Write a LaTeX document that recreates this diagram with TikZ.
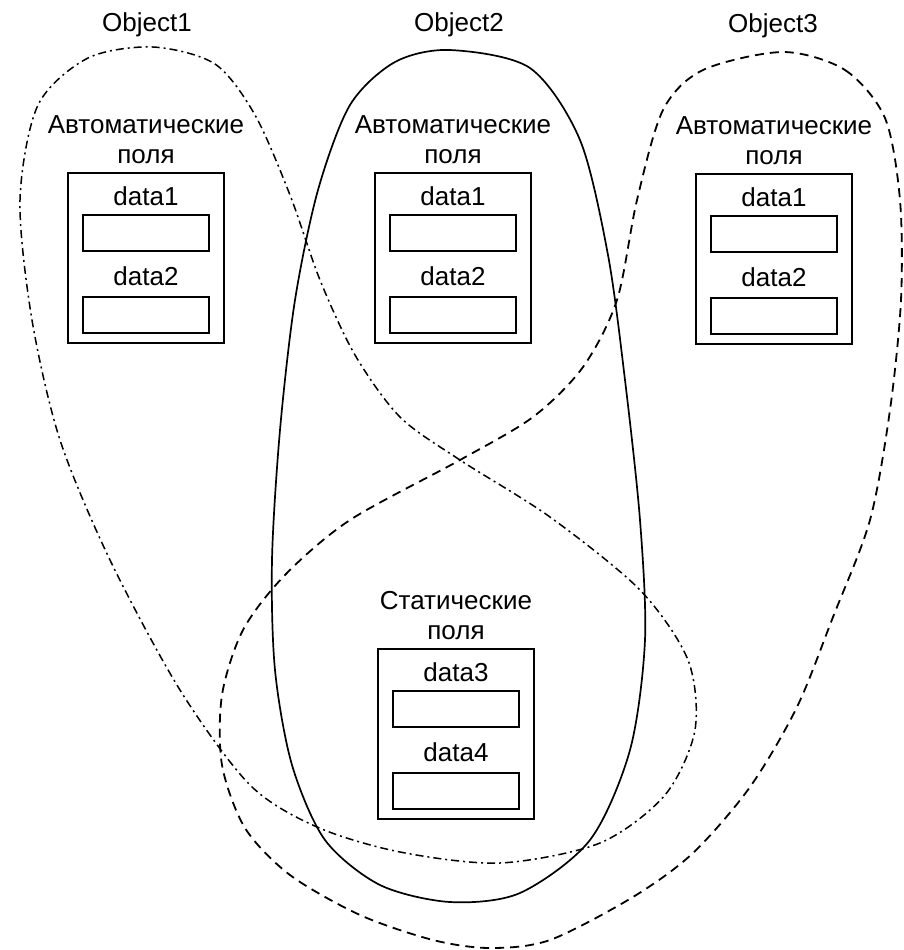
\documentclass[tikz,border=0pt]{standalone}
\usepackage{fontspec}
\setmainfont{Liberation Sans}
\usetikzlibrary{positioning}
\tikzset{
  heading/.style={font=\fontsize{13}{15}\selectfont,align=center,inner sep=0pt},
  fieldname/.style={font=\fontsize{13}{15}\selectfont,inner sep=0pt},
  fieldframe/.style={draw,line width=1pt,minimum width=78pt,minimum height=85pt,inner sep=0pt},
  slot/.style={draw,line width=1pt,minimum width=63pt,minimum height=18pt,inner sep=0pt},
  objone/.style={line width=.75pt,dash pattern=on 4pt off 2pt on 1pt off 2pt},
  objtwo/.style={line width=.85pt},
  objthree/.style={line width=.9pt,dash pattern=on 4.5pt off 3pt},
}

\begin{document}
\begin{tikzpicture}[x=.5pt,y=-.5pt]
\useasboundingbox (0,0) rectangle (904,950);

\node[heading] (obj1) at (147,25) {Object1};
\node[heading] (obj2) at (459,25) {Object2};
\node[heading] (obj3) at (773,26) {Object3};

\foreach \g/\gx/\gy/\kind/\fa/\fb in
  {autoa/146/172/Автоматические/data1/data2,
   autob/453/172/Автоматические/data1/data2,
   autoc/774/173/Автоматические/data1/data2,
   stat/456/648/Статические/data3/data4}{
  \node[fieldframe,anchor=north] (\g) at (\gx,\gy) {};
  \node[heading,above=4pt of \g] (\g-head) {\kind\\поля};
  \node[fieldname,below=7pt of \g.north] (\g-na) {\fa};
  \node[slot,below=4pt of \g-na] (\g-a) {};
  \node[fieldname,below=7.25pt of \g-a] (\g-nb) {\fb};
  \node[slot,below=4.75pt of \g-nb] (\g-b) {};
}

\draw[objone] plot[smooth cycle] coordinates {
  (153,47) (215,64) (255,115) (290,195) (320,280) (355,355) (400,417)
  (460,460) (550,517) (640,590) (688,660) (695,730) (665,795) (600,843)
  (500,863) (400,852) (317,827) (250,785) (180,690) (110,560) (60,440)
  (32,320) (20,200) (38,105) (88,58)};
\draw[objtwo] plot[smooth cycle] coordinates {
  (450,50) (530,68) (580,140) (608,255) (625,380) (640,520) (645,640)
  (630,750) (590,840) (520,893) (450,902) (380,885) (325,840) (292,765)
  (275,670) (272,560) (280,430) (295,300) (318,190) (350,105) (395,62)};
\draw[objthree] plot[smooth cycle] coordinates {
  (783,52) (845,70) (885,118) (900,200) (901,300) (890,410) (870,520)
  (833,617) (797,707) (750,787) (693,853) (633,897) (550,940) (490,948)
  (433,940) (360,915) (290,875) (245,828) (222,765) (222,695) (243,630)
  (285,575) (350,520) (460,460) (533,417) (583,367) (617,300) (637,200)
  (663,110) (703,70)};
\end{tikzpicture}
\end{document}
